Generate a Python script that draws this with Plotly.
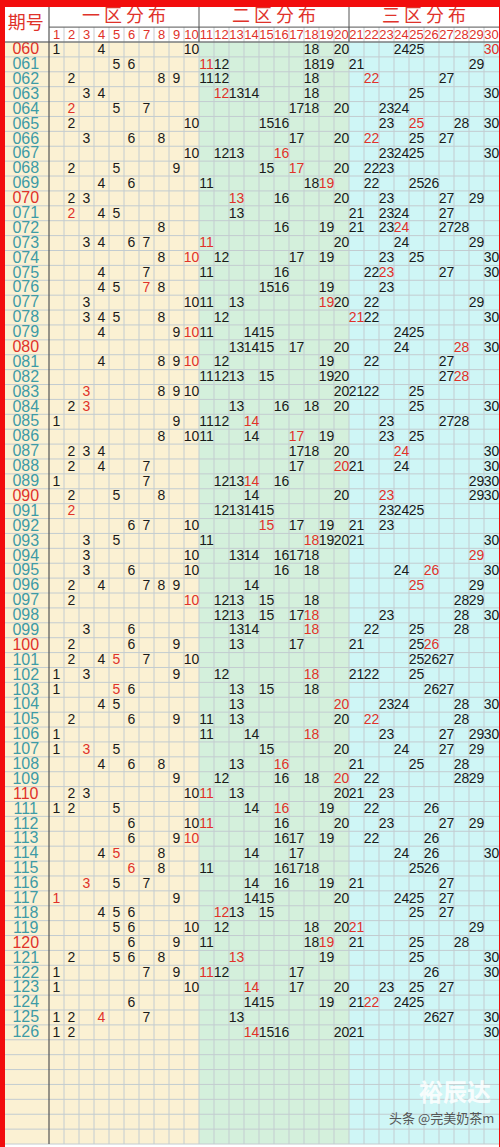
import plotly.graph_objects as go

# 期号 and the eight drawn numbers per period; hot = the number printed in red
periods = [f"{n:03d}" for n in range(60, 127)]
draws = [
    [1, 4, 10, 18, 20, 24, 25, 30], [5, 6, 11, 12, 18, 19, 21, 29],
    [2, 8, 9, 11, 12, 18, 22, 27], [3, 4, 12, 13, 14, 18, 25, 30],
    [2, 5, 7, 17, 18, 20, 23, 24], [2, 10, 15, 16, 23, 25, 28, 30],
    [3, 6, 8, 17, 20, 22, 25, 27], [10, 12, 13, 16, 23, 24, 25, 30],
    [2, 5, 9, 15, 17, 20, 22, 23], [4, 6, 11, 18, 19, 22, 25, 26],
    [2, 3, 13, 16, 20, 23, 27, 29], [2, 4, 5, 13, 21, 23, 24, 27],
    [8, 16, 19, 21, 23, 24, 27, 28], [3, 4, 6, 7, 11, 20, 24, 29],
    [8, 10, 12, 17, 19, 23, 25, 30], [4, 7, 11, 16, 22, 23, 27, 30],
    [4, 5, 7, 8, 15, 16, 19, 23], [3, 10, 11, 13, 19, 20, 22, 29],
    [3, 4, 5, 8, 12, 21, 22, 30], [4, 9, 10, 11, 14, 15, 24, 25],
    [13, 14, 15, 17, 20, 24, 28, 30], [4, 8, 9, 10, 12, 19, 22, 27],
    [11, 12, 13, 15, 19, 20, 27, 28], [3, 8, 9, 10, 20, 21, 22, 25],
    [2, 3, 13, 16, 18, 20, 25, 30], [1, 9, 11, 12, 14, 23, 27, 28],
    [8, 10, 11, 14, 17, 19, 23, 25], [2, 3, 4, 17, 18, 20, 24, 30],
    [2, 4, 7, 17, 20, 21, 24, 30], [1, 7, 12, 13, 14, 16, 29, 30],
    [2, 5, 8, 14, 20, 23, 29, 30], [2, 12, 13, 14, 15, 23, 24, 25],
    [6, 7, 10, 15, 17, 19, 21, 23], [3, 5, 11, 18, 19, 20, 21, 30],
    [3, 10, 13, 14, 16, 17, 18, 29], [3, 6, 10, 16, 18, 24, 26, 30],
    [2, 4, 7, 8, 9, 14, 25, 29], [2, 10, 12, 13, 15, 18, 28, 29],
    [12, 13, 15, 17, 18, 23, 28, 30], [3, 6, 13, 14, 18, 22, 25, 28],
    [2, 6, 9, 13, 17, 21, 25, 26], [2, 4, 5, 7, 10, 25, 26, 27],
    [1, 3, 9, 12, 18, 21, 22, 25], [1, 5, 6, 13, 15, 18, 26, 27],
    [4, 5, 13, 20, 23, 24, 28, 30], [2, 6, 9, 11, 13, 20, 22, 28],
    [1, 11, 14, 18, 23, 27, 29, 30], [1, 3, 5, 15, 20, 24, 27, 29],
    [4, 6, 8, 13, 16, 21, 25, 28], [9, 12, 16, 18, 20, 22, 28, 29],
    [2, 3, 10, 11, 13, 20, 21, 23], [1, 2, 5, 14, 16, 19, 22, 26],
    [6, 10, 11, 16, 20, 23, 27, 29], [6, 9, 10, 16, 17, 19, 22, 26],
    [4, 5, 8, 14, 17, 24, 26, 30], [6, 8, 11, 16, 17, 18, 25, 26],
    [3, 5, 7, 14, 16, 19, 21, 27], [1, 9, 14, 15, 20, 24, 25, 27],
    [4, 5, 6, 12, 13, 15, 25, 27], [5, 6, 10, 12, 18, 20, 21, 29],
    [6, 9, 11, 18, 19, 21, 25, 28], [2, 5, 6, 8, 13, 19, 25, 30],
    [1, 7, 9, 11, 12, 17, 26, 30], [1, 10, 14, 17, 20, 23, 25, 27],
    [6, 14, 15, 19, 21, 22, 24, 25], [1, 2, 4, 7, 13, 26, 27, 30],
    [1, 2, 14, 15, 16, 20, 21, 30],
]
hot = [30, 11, 22, 12, 2, 25, 22, 16, 17, 19, 13, 2, 24, 11, 10, 23, 7, 19,
       21, 10, 28, 10, 28, 3, 3, 14, 17, 24, 20, 14, 23, 2, 15, 18, 29, 26,
       25, 10, 18, 18, 26, 5, 18, 5, 20, 22, 18, 3, 16, 20, 11, 16, 11, 10,
       5, 6, 3, 1, 12, 21, 19, 13, 11, 14, 22, 4, 14]
zones = ["一 区 分 布", "二 区 分 布", "三 区 分 布"]
zone_bg = ["#fbf1d3", "#d4f0dc", "#cff6f6"]

RED = "#e0322a"
TEAL = "#3e9ba6"
n_rows = len(periods)
blank_rows = 7
total = n_rows + blank_rows
hdr = -2.35

fig = go.Figure()
shapes = []
# backgrounds
shapes.append(dict(type="rect", x0=-3, x1=0, y0=0, y1=total, fillcolor=zone_bg[0], line_width=0, layer="below"))
for z in range(3):
    shapes.append(dict(type="rect", x0=z * 10, x1=z * 10 + 10, y0=0, y1=total,
                       fillcolor=zone_bg[z], line_width=0, layer="below"))
shapes.append(dict(type="rect", x0=-3, x1=30.2, y0=hdr, y1=0, fillcolor="white", line_width=0, layer="below"))
grid = "#c3ccd0"
for r in range(total + 1):
    shapes.append(dict(type="line", x0=-3, x1=30, y0=r, y1=r, line=dict(color=grid, width=1), layer="below"))
for c in range(1, 30):
    shapes.append(dict(type="line", x0=c, x1=c, y0=-1, y1=total, line=dict(color=grid, width=1), layer="below"))
# header lines
dark = "#555555"
shapes.append(dict(type="line", x0=0, x1=30, y0=-1, y1=-1, line=dict(color=dark, width=1)))
shapes.append(dict(type="line", x0=-3, x1=30, y0=0, y1=0, line=dict(color=dark, width=1)))
shapes.append(dict(type="line", x0=0, x1=0, y0=hdr, y1=total, line=dict(color=dark, width=1.2)))
for c in (10, 20):
    shapes.append(dict(type="line", x0=c, x1=c, y0=hdr, y1=0, line=dict(color=dark, width=1)))
fig.update_layout(shapes=shapes)

# numbers
bx, by, bt, rx, ry, rt = [], [], [], [], [], []
for i, (row, h) in enumerate(zip(draws, hot)):
    for n in row:
        if n == h:
            rx.append(n - 0.5); ry.append(i + 0.55); rt.append(str(n))
        else:
            bx.append(n - 0.5); by.append(i + 0.55); bt.append(str(n))
numfont = "Liberation Sans"
fig.add_trace(go.Scatter(x=bx, y=by, text=bt, mode="text", cliponaxis=False,
                         textfont=dict(size=14, color="#1a1a1a", family=numfont)))
fig.add_trace(go.Scatter(x=rx, y=ry, text=rt, mode="text", cliponaxis=False,
                         textfont=dict(size=14, color=RED, family=numfont)))
# period labels
pcol = [RED if p.endswith("0") else TEAL for p in periods]
fig.add_trace(go.Scatter(x=[-1.55] * n_rows, y=[i + 0.55 for i in range(n_rows)], text=periods, mode="text",
                         textfont=dict(size=16, color=pcol, family="Liberation Sans")))
# header texts
cols = list(range(1, 31))
fig.add_trace(go.Scatter(x=[c - 0.5 for c in cols], y=[-0.45] * 30, text=[str(c) for c in cols], mode="text",
                         cliponaxis=False, textfont=dict(size=13, color=RED, family=numfont)))
fig.add_trace(go.Scatter(x=[5, 15, 25], y=[-1.65] * 3, text=zones, mode="text",
                         textfont=dict(size=18, color=RED, family="Noto Sans CJK SC")))
fig.add_trace(go.Scatter(x=[-1.55], y=[-1.15], text=["期号"], mode="text",
                         textfont=dict(size=18, color=RED, family="Noto Sans CJK SC")))

fig.add_annotation(x=29.6, y=70.4, xanchor="right", text="<b>裕辰达</b>", showarrow=False,
                   font=dict(size=24, color="rgba(255,255,255,0.85)", family="Noto Sans CJK SC"))
fig.add_annotation(x=29.8, y=72.2, text="头条 @完美奶茶m", showarrow=False, xanchor="right",
                   font=dict(size=13, color="#555555", family="Noto Sans CJK SC"))

fig.update_layout(
    width=500, height=1147, showlegend=False,
    margin=dict(l=5, r=1, t=7, b=0),
    paper_bgcolor="#f20d0d", plot_bgcolor="white",
    xaxis=dict(range=[-44 / 15, 30], visible=False, fixedrange=True),
    yaxis=dict(range=[total + 0.2, hdr], visible=False, fixedrange=True),
)
fig.write_html("out.html", config={"displayModeBar": False},
               post_script="document.body.style.margin='0';document.body.style.overflow='hidden';")
